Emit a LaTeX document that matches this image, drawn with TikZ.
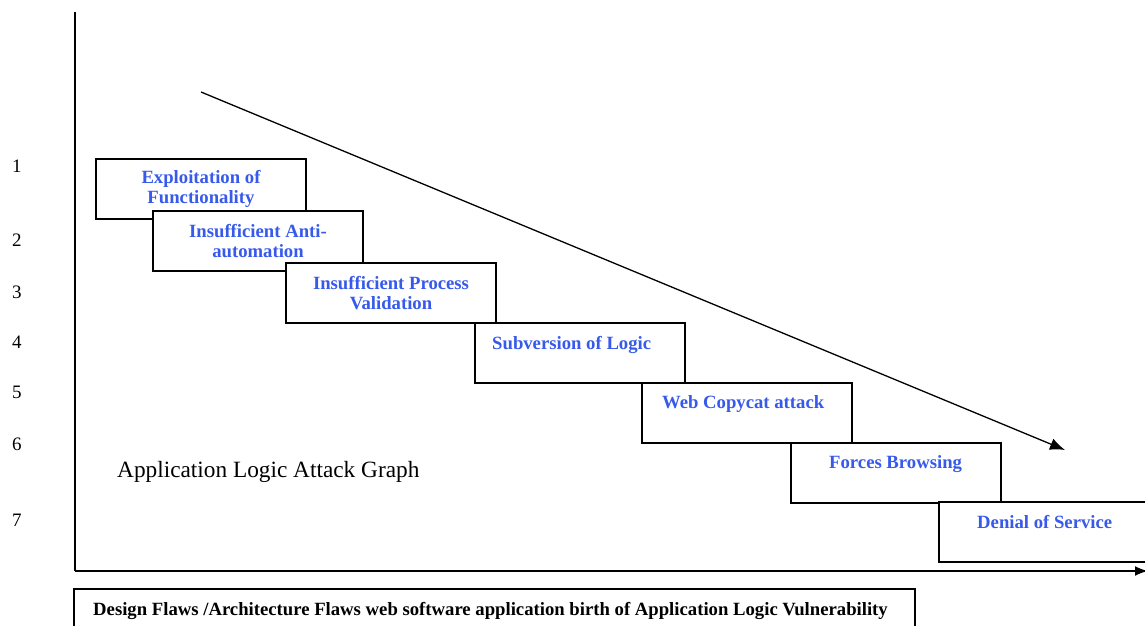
\documentclass[tikz,border=0pt]{standalone}
\usepackage{fontspec}
\setmainfont{Liberation Serif}
\usetikzlibrary{arrows.meta}
\definecolor{itemblue}{RGB}{55,90,235}
\tikzset{
  stepbox/.style={draw=black, line width=2pt, fill=white, minimum width=210pt, minimum height=60pt, inner sep=0pt, outer sep=0pt},
  itemtext/.style={text=itemblue, font=\bfseries\fontsize{18.7}{20}\selectfont, align=center, inner sep=0pt},
  numtext/.style={font=\fontsize{19}{21}\selectfont, inner sep=0pt},
  axisline/.style={draw=black, line width=2pt},
  trendline/.style={draw=black, line width=1.3pt, -{Latex[length=15pt,width=12pt]}},
}
\begin{document}
\begin{tikzpicture}[x=1pt,y=-1pt]
\useasboundingbox (0,0) rectangle (1145,626);
\clip (0,0) rectangle (1145,626);
\fill[white] (0,0) rectangle (1145,626);

% axes
\coordinate (origin) at (75,571);
\coordinate (ytop) at (75,12);
\coordinate (xend) at (1148,571);
\draw[axisline] (ytop) -- (origin);
\draw[axisline, -{Latex[length=13pt,width=10pt]}] (origin) -- (xend);

% trend arrow
\coordinate (trendS) at (201,92);
\coordinate (trendE) at (1065,450);
\draw[trendline] (trendS) -- (trendE);

% row numbers
\node[numtext] (n1) at (17,166) {1};
\node[numtext] (n2) at (17,240) {2};
\node[numtext] (n3) at (17,292) {3};
\node[numtext] (n4) at (17,342) {4};
\node[numtext] (n5) at (17,392) {5};
\node[numtext] (n6) at (17,444) {6};
\node[numtext] (n7) at (17,520) {7};

% staircase boxes
\node[stepbox, itemtext] (b1) at (201,189) {Exploitation of\\Functionality};
\node[stepbox, itemtext] (b2) at (258,241) {Insufficient Anti-\\automation};
\node[stepbox, itemtext] (b3) at (391,293) {Insufficient Process\\Validation};
\node[stepbox] (b4) at (580,353) {};
\node[itemtext, anchor=base west] (t4) at (492,349) {Subversion of Logic};
\node[stepbox] (b5) at (747,413) {};
\node[itemtext, anchor=base west] (t5) at (662,408) {Web Copycat attack};
\node[stepbox] (b6) at (896,473) {};
\node[itemtext, anchor=base west] (t6) at (829,468) {Forces Browsing};
\node[stepbox] (b7) at (1044,532) {};
\node[itemtext, anchor=base west] (t7) at (977,528) {Denial of Service};

% caption
\node[anchor=base west, inner sep=0pt, font=\fontsize{23.3}{25}\selectfont] (caption) at (117,477) {Application Logic Attack Graph};

% footer box
\node[draw=black, line width=2pt, minimum width=841pt, minimum height=60pt, inner sep=0pt, outer sep=0pt, anchor=north west] (footer) at (74,589) {};
\node[anchor=base west, inner sep=0pt, font=\bfseries\fontsize{18.7}{20}\selectfont] (footertext) at (93,615) {Design Flaws /Architecture Flaws web software application birth of Application Logic Vulnerability};
\end{tikzpicture}
\end{document}
